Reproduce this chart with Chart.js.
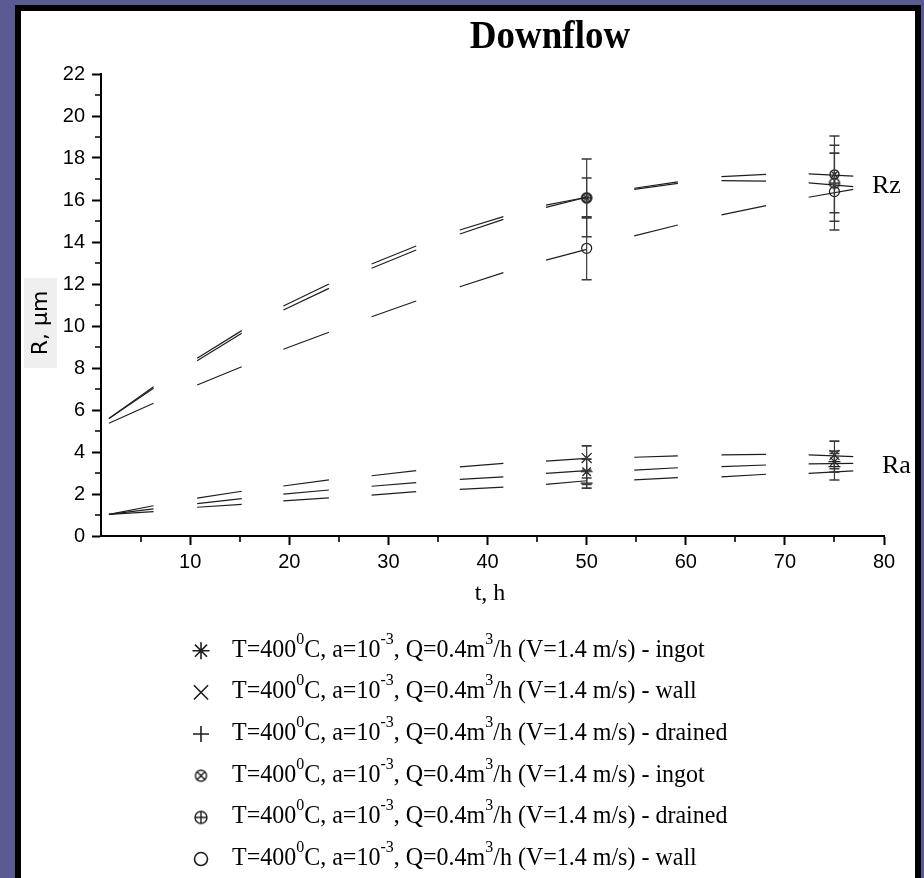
<!DOCTYPE html>
<html>
<head>
<meta charset="utf-8">
<script src="https://cdn.jsdelivr.net/npm/chart.js@4.4.1/dist/chart.umd.min.js"></script>
<style>
  html, body { margin: 0; padding: 0; background: #5b5b93; overflow: hidden; }
  #panel { position: absolute; left: 15px; top: 5px; width: 906px; height: 900px;
           box-sizing: border-box; border: 6px solid #000; background: #fff; }
  #chart { position: absolute; left: 0; top: 0; }
</style>
</head>
<body>
<div id="panel"></div>
<canvas id="chart" width="924" height="878"></canvas>
<script>
// end points of the visible dashes of each fitted curve (t, h)
const tSeg = [1.8, 6.3, 10.7, 15.2, 19.4, 24.0, 28.3, 32.8, 37.2, 41.6, 45.9, 50.0, 54.8, 59.2, 63.6, 68.1, 72.4, 76.9];

// Ra curves
const raWallCurve    = [1.03, 1.44, 1.80, 2.13, 2.38, 2.67, 2.87, 3.11, 3.29, 3.46, 3.57, 3.70, 3.75, 3.82, 3.86, 3.89, 3.86, 3.78];
const raIngotCurve   = [1.03, 1.29, 1.54, 1.78, 1.99, 2.19, 2.37, 2.54, 2.70, 2.82, 2.98, 3.11, 3.14, 3.25, 3.30, 3.38, 3.43, 3.46];
const raDrainedCurve = [1.03, 1.16, 1.37, 1.51, 1.67, 1.82, 1.95, 2.11, 2.22, 2.33, 2.46, 2.63, 2.67, 2.78, 2.82, 2.94, 2.98, 3.10];

// Rz curves
const rzIngotCurve   = [5.60, 7.11, 8.46, 9.78, 10.95, 12.00, 12.95, 13.81, 14.57, 15.21, 15.76, 16.13, 16.56, 16.86, 17.11, 17.22, 17.24, 17.14];
const rzDrainedCurve = [5.60, 7.03, 8.35, 9.65, 10.76, 11.79, 12.75, 13.62, 14.38, 15.08, 15.65, 16.13, 16.51, 16.79, 16.92, 16.90, 16.82, 16.64];
const rzWallCurve    = [5.37, 6.32, 7.19, 8.06, 8.89, 9.70, 10.44, 11.19, 11.87, 12.54, 13.14, 13.65, 14.29, 14.81, 15.29, 15.73, 16.13, 16.51];

// measured points with error bars
const markT = [50, 75];
const raIngot   = [3.06, 3.54], raIngotErr   = [0.60, 0.50];
const raWall    = [3.71, 3.86], raWallErr    = [0.58, 0.66];
const raDrained = [2.52, 3.30], raDrainedErr = [0.24, 0.63];
const rzIngot   = [16.10, 17.22], rzIngotErr   = [1.85, 1.83];
const rzDrained = [16.10, 16.80], rzDrainedErr = [0.95, 1.81];
const rzWall    = [13.70, 16.40], rzWallErr    = [1.50, 1.83];

// axis ticks
const xTicks = [10, 20, 30, 40, 50, 60, 70, 80];
const xMinor = [5, 15, 25, 35, 45, 55, 65, 75];
const yTicks = [0, 2, 4, 6, 8, 10, 12, 14, 16, 18, 20, 22];
const yMinor = [1, 3, 5, 7, 9, 11, 13, 15, 17, 19, 21];

const legendNames = ['ingot', 'wall', 'drained', 'ingot', 'drained', 'wall'];

const ink = '#1e1e1e';

// circle with a cross / plus inside, used as point style
function ringMark(r, kind) {
    const s = Math.ceil(2 * r + 4);
    const c = document.createElement('canvas');
    c.width = s; c.height = s;
    const g = c.getContext('2d');
    const m = s / 2;
    g.strokeStyle = ink;
    g.lineWidth = 1.4;
    g.beginPath();
    g.arc(m, m, r, 0, Math.PI * 2);
    if (kind === 'x') {
        const d = r * 0.72;
        g.moveTo(m - d, m - d); g.lineTo(m + d, m + d);
        g.moveTo(m + d, m - d); g.lineTo(m - d, m + d);
    } else {
        g.moveTo(m - r, m); g.lineTo(m + r, m);
        g.moveTo(m, m - r); g.lineTo(m, m + r);
    }
    g.stroke();
    return c;
}

function curve(vals) {
    return {
        type: 'line',
        data: vals.map((v, i) => ({ x: tSeg[i], y: v })),
        borderColor: ink,
        borderWidth: 1.2,
        pointRadius: 0,
        tension: 0,
        fill: false,
        segment: {
            borderColor: c => (c.p0DataIndex % 2 ? 'rgba(0,0,0,0)' : ink)
        },
        order: 3
    };
}

function marks(vals, errs, style, radius, legendStyle, legendRadius) {
    return {
        type: 'scatter',
        data: vals.map((v, i) => ({ x: markT[i], y: v })),
        errs: errs,
        pointStyle: style,
        pointRadius: radius,
        pointBorderWidth: 1.2,
        borderColor: ink,
        backgroundColor: 'rgba(0,0,0,0)',
        showLine: false,
        legendStyle: legendStyle,
        legendRadius: legendRadius,
        order: 1
    };
}

const markerSets = [
    marks(raIngot, raIngotErr, 'star', 6, 'star', 8.5),
    marks(raWall, raWallErr, 'crossRot', 7, 'crossRot', 10),
    marks(raDrained, raDrainedErr, 'cross', 6, 'cross', 8),
    marks(rzIngot, rzIngotErr, ringMark(4.5, 'x'), 5, ringMark(5.5, 'x'), 6),
    marks(rzDrained, rzDrainedErr, ringMark(5, '+'), 5, ringMark(6, '+'), 6),
    marks(rzWall, rzWallErr, 'circle', 5, 'circle', 6.5)
];

// text a bit taller than the font's own proportions, like the scanned figure
function tallText(ctx, txt, x, y, stretch) {
    ctx.save();
    ctx.translate(x, y);
    ctx.scale(1, stretch);
    ctx.fillText(txt, 0, 0);
    ctx.restore();
}

// error bars, minor ticks, titles and the legend
const decorations = {
    id: 'decorations',
    afterDatasetsDraw(chart) {
        const ctx = chart.ctx;
        const xs = chart.scales.x, ys = chart.scales.y;
        ctx.save();
        ctx.strokeStyle = '#3a3a3a';
        chart.data.datasets.forEach(ds => {
            if (!ds.errs) return;
            ds.data.forEach((p, j) => {
                const x = xs.getPixelForValue(p.x);
                const top = ys.getPixelForValue(p.y + ds.errs[j]);
                const bot = ys.getPixelForValue(p.y - ds.errs[j]);
                ctx.lineWidth = 1.2;
                ctx.beginPath();
                ctx.moveTo(x, top); ctx.lineTo(x, bot);
                ctx.stroke();
                ctx.lineWidth = 1.6;
                ctx.beginPath();
                ctx.moveTo(x - 5, top); ctx.lineTo(x + 5, top);
                ctx.moveTo(x - 5, bot); ctx.lineTo(x + 5, bot);
                ctx.stroke();
            });
        });
        ctx.restore();
    },
    afterDraw(chart) {
        const ctx = chart.ctx;
        const xs = chart.scales.x, ys = chart.scales.y;
        const area = chart.chartArea;
        ctx.save();

        // minor ticks
        ctx.strokeStyle = '#000';
        ctx.lineWidth = 1.6;
        ctx.beginPath();
        xMinor.forEach(v => {
            const x = Math.round(xs.getPixelForValue(v));
            ctx.moveTo(x, area.bottom); ctx.lineTo(x, area.bottom + 6);
        });
        yMinor.forEach(v => {
            const y = Math.round(ys.getPixelForValue(v));
            ctx.moveTo(area.left, y); ctx.lineTo(area.left - 6, y);
        });
        ctx.stroke();

        // title
        ctx.fillStyle = '#000';
        ctx.textAlign = 'center';
        ctx.textBaseline = 'alphabetic';
        ctx.font = 'bold 37px "Liberation Serif"';
        tallText(ctx, 'Downflow', 550, 48, 1.1);

        // axis titles
        ctx.font = '24px "Liberation Serif"';
        ctx.fillText('t, h', 490, 600);

        ctx.fillStyle = '#efefef';
        ctx.fillRect(24, 278, 33, 90);
        ctx.save();
        ctx.translate(47, 323);
        ctx.rotate(-Math.PI / 2);
        ctx.fillStyle = '#000';
        ctx.font = '22px "DejaVu Sans"';
        ctx.textAlign = 'center';
        ctx.fillText('R, \u03bcm', 0, 0);
        ctx.restore();

        // group labels
        ctx.fillStyle = '#000';
        ctx.textAlign = 'left';
        ctx.font = '26px "Liberation Serif"';
        ctx.fillText('Rz', 872, 193);
        ctx.fillText('Ra', 882, 473);

        // legend
        markerSets.forEach((ds, i) => {
            const base = 656.7 + i * 41.67;
            ctx.fillStyle = 'rgba(0,0,0,0)';
            ctx.strokeStyle = ink;
            Chart.helpers.drawPoint(ctx, {
                pointStyle: ds.legendStyle,
                radius: ds.legendRadius,
                borderWidth: 1.2,
                rotation: 0
            }, 201, base - 6);
            const parts = [
                ['T=400', 0], ['0', 1], ['C, a=10', 0], ['-3', 1],
                [', Q=0.4m', 0], ['3', 1], ['/h (V=1.4 m/s) - ' + legendNames[i], 0]
            ];
            let x = 232;
            ctx.fillStyle = '#000';
            parts.forEach(([txt, sup]) => {
                ctx.font = sup ? '16px "Liberation Serif"' : '24px "Liberation Serif"';
                tallText(ctx, txt, x, sup ? base - 13 : base, 1.08);
                x += ctx.measureText(txt).width;
            });
        });
        ctx.restore();
    }
};

const tickFont = { family: '"Liberation Sans", Arial, sans-serif', size: 20 };

new Chart(document.getElementById('chart'), {
    type: 'scatter',
    data: {
        datasets: [
            curve(raWallCurve), curve(raIngotCurve), curve(raDrainedCurve),
            curve(rzIngotCurve), curve(rzDrainedCurve), curve(rzWallCurve),
            ...markerSets
        ]
    },
    options: {
        responsive: false,
        devicePixelRatio: 1,
        animation: false,
        layout: { padding: { left: 0, right: 40, top: 74, bottom: 282 } },
        plugins: { legend: { display: false }, tooltip: { enabled: false } },
        scales: {
            x: {
                type: 'linear', min: 1, max: 80,
                afterBuildTicks: s => { s.ticks = xTicks.map(v => ({ value: v })); },
                afterFit: s => { s.height = 60; },
                grid: { drawOnChartArea: false, drawTicks: true, tickLength: 9,
                        tickWidth: 2, tickColor: '#000', color: '#000' },
                border: { display: true, color: '#000', width: 2 },
                ticks: { font: tickFont, color: '#000', padding: 5, maxRotation: 0 }
            },
            y: {
                type: 'linear', min: 0, max: 22,
                afterBuildTicks: s => { s.ticks = yTicks.map(v => ({ value: v })); },
                afterFit: s => { s.width = 101; },
                grid: { drawOnChartArea: false, drawTicks: true, tickLength: 9,
                        tickWidth: 2, tickColor: '#000', color: '#000' },
                border: { display: true, color: '#000', width: 2 },
                ticks: { font: tickFont, color: '#000', padding: 7 }
            }
        }
    },
    plugins: [decorations]
});
</script>
</body>
</html>
